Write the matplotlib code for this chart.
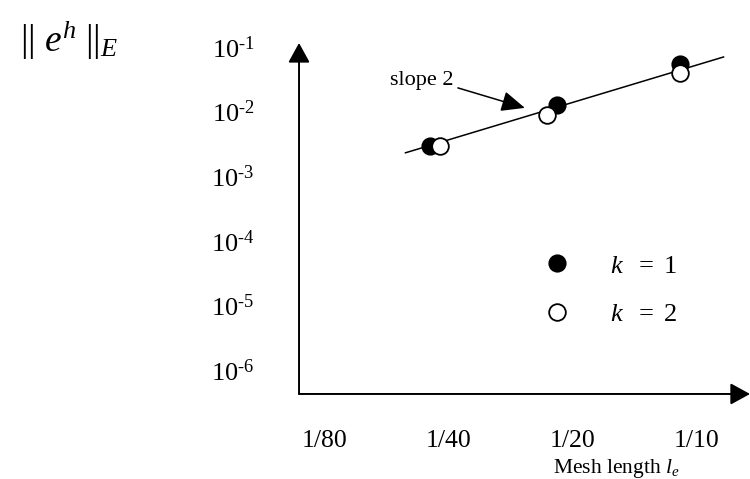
import matplotlib
matplotlib.use('Agg')
import matplotlib.pyplot as plt
from matplotlib.ticker import FixedLocator, NullLocator

plt.rcParams['font.family'] = 'Liberation Serif'
plt.rcParams['mathtext.fontset'] = 'custom'
plt.rcParams['mathtext.rm'] = 'Liberation Serif'
plt.rcParams['mathtext.it'] = 'Liberation Serif:italic'

# values
h_k1 = [0.0225, 0.0457, 0.0909]
err_k1 = [2.9e-3, 1.27e-2, 5.5e-2]
h_k2 = [0.0238, 0.0432, 0.0909]
err_k2 = [2.9e-3, 8.9e-3, 4.0e-2]
fit_h = [0.0196, 0.116]
fit_err = [2.3e-3, 7.0e-2]

x_ticks = [1 / 80, 1 / 40, 1 / 20, 1 / 10]
x_labels = ['1/80', '1/40', '1/20', '1/10']
y_exps = [-1, -2, -3, -4, -5, -6]

fig = plt.figure(figsize=(7.5, 4.79), dpi=100)
ax = fig.add_axes([0.3987, 0.1775, 0.6013, 0.7328])
ax.set_xscale('log', base=2)
ax.set_yscale('log')
ax.set_xlim(0.01081, 0.1345)
ax.set_ylim(10 ** -6.372, 10 ** -0.938)

ax.plot(fit_h, fit_err, color='black', lw=1.1, zorder=2)
ax.plot(h_k1, err_k1, 'o', ms=12, mfc='black', mec='black', mew=1.1,
        label=r'$k\ \ =\ 1$', zorder=3)
ax.plot(h_k2, err_k2, 'o', ms=12, mfc='white', mec='black', mew=1.3,
        label=r'$k\ \ =\ 2$', zorder=4)

# ticks
ax.xaxis.set_major_locator(FixedLocator(x_ticks))
ax.xaxis.set_ticklabels(x_labels)
ax.xaxis.set_minor_locator(NullLocator())
ax.yaxis.set_major_locator(FixedLocator([10.0 ** e for e in y_exps]))
ax.yaxis.set_ticklabels([r'$\mathregular{10^{\text{-}%d}}$' % -e for e in y_exps])
ax.yaxis.set_minor_locator(NullLocator())
ax.tick_params(axis='x', length=0, pad=26, labelsize=18.5)
ax.tick_params(axis='y', length=0, pad=32, labelsize=19)

for s in ax.spines.values():
    s.set_visible(False)

# axes as arrows
arrow = dict(arrowstyle='-|>,head_length=0.6,head_width=0.33', lw=1.4,
             color='black', mutation_scale=20, shrinkA=0, shrinkB=0)
ax.annotate('', xy=(0, 1), xytext=(0, 0), xycoords='axes fraction',
            arrowprops=arrow, annotation_clip=False)
ax.annotate('', xy=(1.0, 0), xytext=(0, 0), xycoords='axes fraction',
            arrowprops=arrow, annotation_clip=False)

ax.annotate('slope 2', xy=(0.0382, 1.14e-2), xytext=(0.0215, 3.08e-2),
            fontsize=16, ha='center', va='center',
            arrowprops=dict(arrowstyle='-|>,head_length=0.8,head_width=0.35',
                            lw=1.1, color='black', mutation_scale=18,
                            shrinkA=1, shrinkB=0, relpos=(1.0, 0.15)))

ax.set_xlabel(r'Mesh length $l_e$', fontsize=15.5, va='center')
ax.xaxis.set_label_coords(0.703, -0.211)

fig.text(0.092, 0.916, r'$||\ e^{h}\ ||_{E}$', fontsize=27,
         ha='center', va='center')

ax.legend(loc='center left', bbox_to_anchor=(0.543, 0.296), frameon=False,
          fontsize=19, handlelength=1, handletextpad=1.5, labelspacing=0.95,
          borderpad=0, borderaxespad=0, numpoints=1)

fig.savefig('out.png', dpi=100)
